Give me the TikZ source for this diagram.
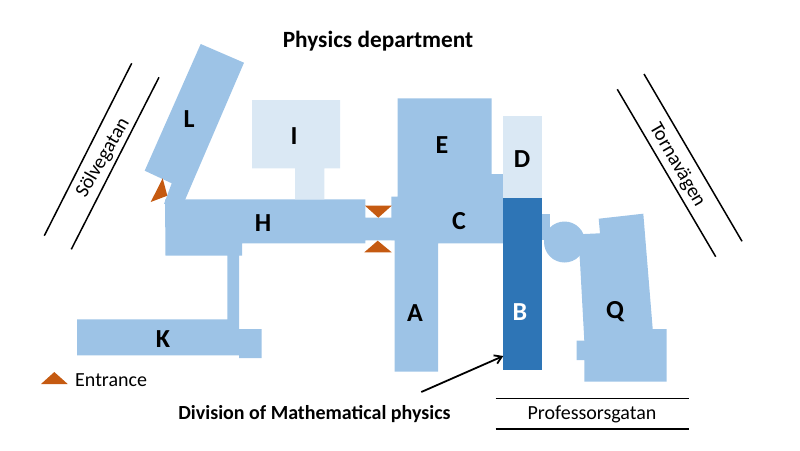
\documentclass[tikz,border=0pt]{standalone}
\usepackage{fontspec}
\usetikzlibrary{arrows.meta}
\setmainfont{Carlito}
\definecolor{bldg}{HTML}{9DC3E6}
\definecolor{bldglight}{HTML}{DAE8F4}
\definecolor{bldgdark}{HTML}{2E75B6}
\definecolor{entr}{HTML}{C55A11}
\tikzset{
  bldgfill/.style={fill=bldg},
  lightfill/.style={fill=bldglight},
  entrance/.style={fill=entr},
  road/.style={draw=black,line width=1.5pt},
  blabel/.style={font=\fontsize{26}{28}\selectfont\bfseries,inner sep=0pt},
  txt/.style={font=\fontsize{20}{22}\selectfont,inner sep=0pt},
  boldtxt/.style={font=\fontsize{20}{22}\selectfont\bfseries,inner sep=0pt}
}
\begin{document}
\begin{tikzpicture}[x=1pt,y=-1pt]
\useasboundingbox (0,0) rectangle (800,450);
% L
\fill[bldgfill] (200.7,44) -- (244,62.7) -- (185,200) -- (164,204) -- (171.7,183.3) -- (144.7,170.7) -- cycle;
% H
\fill[bldgfill] (165,199.3) -- (365.3,199.3) -- (365.3,217.5) -- (395,217.5) -- (395,240.3) -- (365.3,240.3) -- (365.3,243.3) -- (242,243.3) -- (242,255.7) -- (239,255.7) -- (239,329) -- (261.7,329) -- (261.7,358) -- (239,358) -- (239,355.3) -- (77,355.3) -- (77,319.3) -- (227.3,319.3) -- (227.3,255.7) -- (165.5,255.7) -- cycle;
% I
\fill[lightfill] (252,100) -- (340,100) -- (340,168.3) -- (324.3,168.3) -- (324.3,199.3) -- (295,199.3) -- (295,168.3) -- (252,168.3) -- cycle;
% E C A
\fill[bldgfill] (397.7,98.3) -- (491.7,98.3) -- (491.7,174) -- (503.3,174) -- (503.3,243.3) -- (438,243.3) -- (438,371.7) -- (394.7,371.7) -- (394.7,240) -- (391.3,240) -- (391.3,196.7) -- (397.7,196.7) -- cycle;
% D B
\fill[lightfill] (503.3,115.7) rectangle (541.7,198);
\fill[fill=bldgdark] (503.3,198) rectangle (541.7,370);
% Q
\fill[bldgfill] (541.7,214) -- (550,214) -- (550,240) -- (541.7,240) -- cycle;
\fill[bldgfill] (564.5,242) circle[radius=20.5];
\fill[bldgfill] (598.7,218.7) -- (643.3,213.7) -- (652.7,329) -- (666.7,329) -- (666.7,381.7) -- (584.3,381.7) -- (584.3,360) -- (576.7,360) -- (576.7,340.7) -- (584.3,340.7) -- (580,262) -- (578,234.3) -- (600,233.3) -- cycle;
% entrances
\fill[entrance] (162.7,178.3) -- (167.3,195.7) -- (150.7,202) -- cycle;
\fill[entrance] (365,205.7) -- (391.7,205.7) -- (378.3,217.7) -- cycle;
\fill[entrance] (377.7,240.7) -- (364.3,252.3) -- (391.7,252.3) -- cycle;
\fill[entrance] (54.3,372) -- (41,384) -- (67.7,384) -- cycle;
% roads
\coordinate (s1a) at (131.7,63.3); \coordinate (s1b) at (44.3,235.7);
\coordinate (s2a) at (159,77.3); \coordinate (s2b) at (71.3,249.3);
\coordinate (t1a) at (617.3,89.3); \coordinate (t1b) at (715.7,256.7);
\coordinate (t2a) at (644,74); \coordinate (t2b) at (742,241.3);
\coordinate (p1a) at (495.7,398.7); \coordinate (p1b) at (689.3,398.7);
\coordinate (p2a) at (495.7,429); \coordinate (p2b) at (689.3,429);
\draw[road] (s1a) -- (s1b);
\draw[road] (s2a) -- (s2b);
\draw[road] (t1a) -- (t1b);
\draw[road] (t2a) -- (t2b);
\draw[road] (p1a) -- (p1b);
\draw[road] (p2a) -- (p2b);
% labels
\node[boldtxt,font=\fontsize{23.3}{25}\selectfont\bfseries] (title) at (378,41) {Physics department};
\node[blabel] (nL) at (189,119) {L};
\node[blabel] (nI) at (294,136) {I};
\node[blabel] (nH) at (263,223) {H};
\node[blabel] (nE) at (442,145) {E};
\node[blabel] (nD) at (522,159) {D};
\node[blabel] (nC) at (459,221) {C};
\node[blabel] (nA) at (415,313) {A};
\node[blabel,text=white] (nB) at (520,312) {B};
\node[blabel] (nQ) at (615,312) {Q};
\node[blabel] (nK) at (163,339) {K};
\node[txt,rotate=60] (sv) at (103,158) {Sölvegatan};
\node[txt,rotate=-60] (tv) at (677,165) {Tornavägen};
\node[txt,anchor=west] (ent) at (75,380) {Entrance};
\node[txt] (pg) at (592,414) {Professorsgatan};
\node[boldtxt] (dv) at (314.5,414) {Division of Mathematical physics};
\coordinate (arrS) at (421.3,392);
\coordinate (arrE) at (503.3,356);
\draw[line width=1.8pt,-{Straight Barb[length=7pt,width=9pt]}] (arrS) -- (arrE);
\end{tikzpicture}
\end{document}
